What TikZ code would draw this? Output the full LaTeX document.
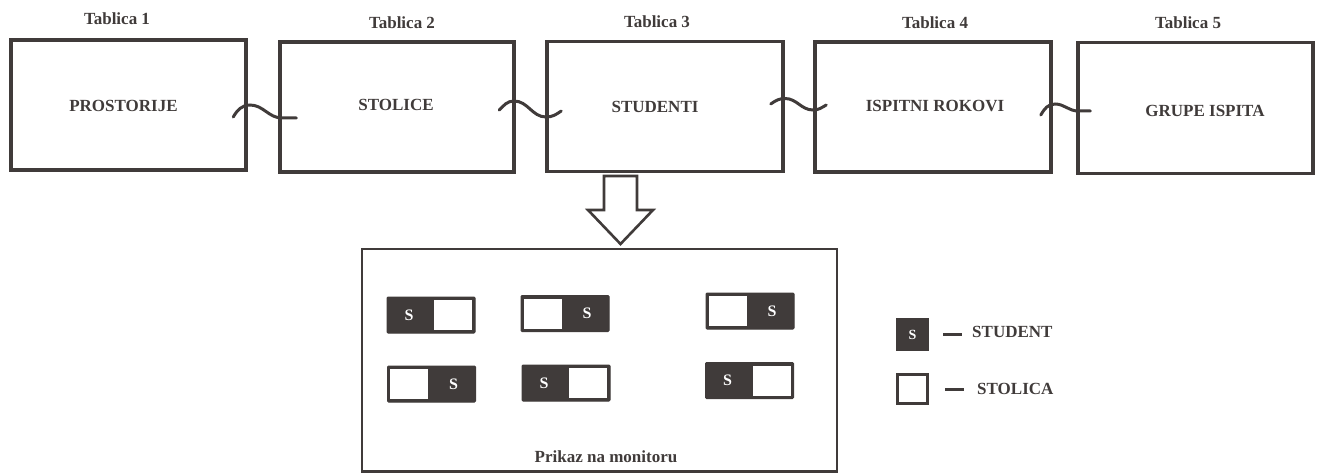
\documentclass[tikz,border=0pt]{standalone}
\usepackage{fontspec}
\setmainfont{Liberation Serif}
\usetikzlibrary{calc}
\definecolor{dk}{RGB}{64,59,58}
\tikzset{
  tbl/.style={draw=dk, line width=3.5pt, minimum width=#1, minimum height=130pt, inner sep=0pt},
  lbl/.style={text=dk, font=\bfseries\fontsize{17}{17}\selectfont, inner sep=0pt},
  wave/.style={draw=dk, line width=3pt, line cap=round},
  seatbox/.style={fill=dk, draw=dk, line width=1pt, rounded corners=1pt, minimum width=88pt, minimum height=36pt, inner sep=0pt},
  chair/.style={fill=white, minimum width=38pt, minimum height=30pt, inner sep=0pt},
  stxt/.style={text=white, font=\bfseries\fontsize{16}{16}\selectfont, inner sep=0pt},
}
\begin{document}
\begin{tikzpicture}[x=1pt,y=-1pt]
\useasboundingbox (0,0) rectangle (1321,473);
% table boxes
\node[tbl=235pt] (b1) at (128.5,105) {};
\node[tbl=234pt] (b2) at (397,107) {};
\node[tbl=236pt] (b3) at (665,106.5) {};
\node[tbl=236pt] (b4) at (933,107) {};
\node[tbl=235pt, minimum height=131pt] (b5) at (1195.5,108) {};
% titles
\node[lbl] (t1) at (117,19) {Tablica 1};
\node[lbl] (t2) at (402,23) {Tablica 2};
\node[lbl] (t3) at (657,22) {Tablica 3};
\node[lbl] (t4) at (935,23) {Tablica 4};
\node[lbl] (t5) at (1188,23) {Tablica 5};
% inner labels
\node[lbl] (l1) at (123.5,106) {PROSTORIJE};
\node[lbl] (l2) at (396,105) {STOLICE};
\node[lbl] (l3) at (655,107) {STUDENTI};
\node[lbl] (l4) at (935,106) {ISPITNI ROKOVI};
\node[lbl] (l5) at (1205,111) {GRUPE ISPITA};
% wavy connectors
\draw[wave] ($(b1.east)+(-14.5,12)$) to[out=60,in=180] (250,105) to[out=0,in=180] (282,118) -- ($(b2.west)+(18,11)$);
\draw[wave] ($(b2.east)+(-16.5,3)$) to[out=45,in=180] (514,101) to[out=0,in=180] (546,117) to[out=0,in=215] ($(b3.west)+(16,4.5)$);
\draw[wave] ($(b3.east)+(-14,-2.5)$) to[out=35,in=180] (785,98.5) to[out=0,in=180] (813,110) to[out=0,in=210] ($(b4.west)+(13,-2)$);
\draw[wave] ($(b4.east)+(-12,8)$) to[out=60,in=180] (1055,104) to[out=0,in=180] (1078,111) -- ($(b5.west)+(14,3)$);
% block arrow
\draw[draw=dk, line width=2.6pt, line join=miter, fill=white]
  (604,176) -- (637,176) -- (637,210) -- (653,210) -- (620.5,244) -- (588,210) -- (604,210) -- cycle;
% monitor
\draw[draw=dk, line width=2.5pt] (362,471.5) -- (362,249) -- (837,249) -- (837,471.5) -- cycle;
\node[lbl] (mt) at (606,457) {Prikaz na monitoru};
% seats
\node[seatbox] (s1) at (431,315) {};
\node[chair, anchor=east] at ([xshift=-3pt]s1.east) {};
\node[stxt] at ([xshift=-22pt]s1.center) {S};
\node[seatbox] (s2) at (565,313.5) {};
\node[chair, anchor=west] at ([xshift=3pt]s2.west) {};
\node[stxt] at ([xshift=22pt]s2.center) {S};
\node[seatbox] (s3) at (750,311) {};
\node[chair, anchor=west] at ([xshift=3pt]s3.west) {};
\node[stxt] at ([xshift=22pt]s3.center) {S};
\node[seatbox] (s4) at (431.5,384) {};
\node[chair, anchor=west] at ([xshift=3pt]s4.west) {};
\node[stxt] at ([xshift=22pt]s4.center) {S};
\node[seatbox] (s5) at (566,383) {};
\node[chair, anchor=east] at ([xshift=-3pt]s5.east) {};
\node[stxt] at ([xshift=-22pt]s5.center) {S};
\node[seatbox] (s6) at (749.5,380.5) {};
\node[chair, anchor=east] at ([xshift=-3pt]s6.east) {};
\node[stxt] at ([xshift=-22pt]s6.center) {S};
% legend
\node[fill=dk, minimum width=33pt, minimum height=33pt, inner sep=0pt] (ks) at (912.5,334.5) {};
\node[stxt, font=\bfseries\fontsize{14}{14}\selectfont] at (ks) {S};
\node[draw=dk, line width=3.5pt, fill=white, minimum width=30pt, minimum height=29pt, inner sep=0pt] (kc) at (912.5,389) {};
\coordinate (d1a) at ($(ks.east)+(14,0)$);
\coordinate (d1b) at ($(ks.east)+(33,0)$);
\draw[draw=dk, line width=3pt] (d1a) -- (d1b);
\coordinate (d2a) at ($(kc.east)+(16,0)$);
\coordinate (d2b) at ($(kc.east)+(35,0)$);
\draw[draw=dk, line width=3pt] (d2a) -- (d2b);
\node[lbl, anchor=west] (ls) at (972,332) {STUDENT};
\node[lbl, anchor=west] (lc) at (977,389) {STOLICA};
\end{tikzpicture}
\end{document}
